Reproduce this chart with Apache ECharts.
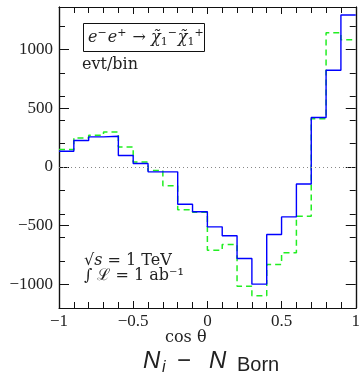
<!DOCTYPE html>
<html>
<head>
<meta charset="utf-8">
<script src="https://cdn.jsdelivr.net/npm/echarts@6/dist/echarts.min.js"></script>
<style>
  html, body { margin: 0; padding: 0; background: #fff; }
  #chart { width: 363px; height: 381px; }
</style>
</head>
<body>
<div id="chart"></div>
<script>
// bin left edges of cos(theta), width 0.1
var binEdges = [-1, -0.9, -0.8, -0.7, -0.6, -0.5, -0.4, -0.3, -0.2, -0.1,
                0, 0.1, 0.2, 0.3, 0.4, 0.5, 0.6, 0.7, 0.8, 0.9, 1];
// blue solid histogram
var blueVals = [133, 224, 255, 261, 97, 29, -42, -42, -317, -382,
                -510, -586, -779, -997, -575, -425, -145, 420, 822, 1292];
// green dashed histogram
var greenVals = [148, 246, 269, 297, 170, 42, -31, -161, -365, -385,
                 -708, -660, -1014, -1096, -830, -731, -419, 410, 1142, 1082];
var yMajorTicks = [-1000, -500, 0, 500, 1000];
var yMinorTicks = [-1200, -800, -600, -400, -200, 200, 400, 600, 800, 1200];

function steps(vals) {
    var pts = [];
    for (var i = 0; i < vals.length; i++) {
        pts.push([binEdges[i], vals[i]]);
    }
    pts.push([binEdges[vals.length], vals[vals.length - 1]]);
    return pts;
}

var serif = 'Liberation Serif';
var minus = function (v) { return String(v).replace('-', '\u2212'); };

function yAx(pos, ticks, len, labels) {
    return {
        type: 'value', position: pos, min: -1200, max: 1360,
        axisLine: { show: true, onZero: false, lineStyle: { color: '#111', width: 1.2 } },
        axisTick: { show: true, inside: true, length: len, customValues: ticks,
                    lineStyle: { color: '#111', width: 1 } },
        axisLabel: labels ? { show: true, customValues: ticks, margin: 6,
                    fontFamily: serif, fontSize: 17, color: '#222', formatter: minus }
                          : { show: false },
        splitLine: { show: false }
    };
}
function xAx(pos, labels) {
    return {
        type: 'value', position: pos, min: -1, max: 1, interval: 0.5,
        axisLine: { show: true, onZero: false, lineStyle: { color: '#111', width: 1.2 } },
        axisTick: { show: true, inside: true, length: 7, lineStyle: { color: '#111', width: 1 } },
        minorTick: { show: true, splitNumber: 5, length: 6, lineStyle: { color: '#111', width: 1 } },
        axisLabel: labels ? { show: true, margin: 5, fontFamily: serif, fontSize: 17, color: '#222',
                    formatter: minus } : { show: false },
        splitLine: { show: false }
    };
}

function txt(s, x, y, font, align) {
    return { type: 'text', x: x, y: y,
             style: { text: s, font: font, fill: '#222', verticalAlign: 'middle', align: align || 'left' } };
}
var tx = '16px "DejaVu Serif"';
var sans = '"Liberation Sans"';

var option = {
    animation: false,
    grid: { left: 59, right: 4, top: 7, bottom: 73 },
    xAxis: [xAx('bottom', true), xAx('top', false)],
    yAxis: [
        yAx('left', yMajorTicks, 10, true),
        yAx('left', yMinorTicks, 6, false),
        yAx('right', yMajorTicks, 10, false),
        yAx('right', yMinorTicks, 6, false)
    ],
    series: [
        {
            type: 'line', step: 'end', data: steps(greenVals), symbol: 'none',
            lineStyle: { color: '#22ee22', width: 1.5, type: [6, 4] },
            markLine: {
                silent: true, symbol: 'none', label: { show: false },
                lineStyle: { color: '#888', width: 1, type: [1, 3] },
                data: [{ yAxis: 0 }]
            }
        },
        {
            type: 'line', step: 'end', data: steps(blueVals), symbol: 'none',
            lineStyle: { color: '#0000ff', width: 1.4 }
        }
    ],
    graphic: [
        { type: 'rect', shape: { x: 83.5, y: 23.5, width: 121, height: 28 },
          style: { fill: '#fff', stroke: '#111', lineWidth: 1 } },
        { type: 'text', x: 88, y: 38,
          style: {
              text: '{i|e}{sp|\u2212}{i|e}{sp|+}{r| \u2192 }{i|\u03C7\u0303}{sb|1}{sp|\u2212}{i|\u03C7\u0303}{sb|1}{sp|+}',
              verticalAlign: 'middle',
              rich: {
                  i: { fontFamily: 'DejaVu Serif', fontStyle: 'italic', fontSize: 16, fill: '#222' },
                  r: { fontFamily: 'DejaVu Serif', fontSize: 16, fill: '#222' },
                  sp: { fontFamily: 'DejaVu Serif', fontSize: 11, fill: '#222', padding: [0, 1, 10, 0] },
                  sb: { fontFamily: 'DejaVu Serif', fontSize: 11, fill: '#222', padding: [8, 0, 0, 0] }
              }
          } },
        txt('evt/bin', 82, 65, tx),
        { type: 'text', x: 84, y: 261,
          style: { text: '{r|\u221A}{i|s}{r| = 1 TeV}', verticalAlign: 'middle',
                   rich: { r: { font: tx, fill: '#222' },
                           i: { font: 'italic ' + tx, fill: '#222' } } } },
        txt('\u222B \u2112 = 1 ab\u207B\u00B9', 84, 276, tx),
        txt('cos \u03B8', 165, 338, tx),
        txt('N', 143, 361, 'italic 24px ' + sans),
        txt('i', 162, 368, 'italic 16px ' + sans),
        txt('\u2212', 177, 361, '24px ' + sans),
        txt('N', 209, 361, 'italic 24px ' + sans),
        txt('Born', 237, 365, '20px ' + sans)
    ]
};

var chart = echarts.init(document.getElementById('chart'));
chart.setOption(option);
</script>
</body>
</html>
